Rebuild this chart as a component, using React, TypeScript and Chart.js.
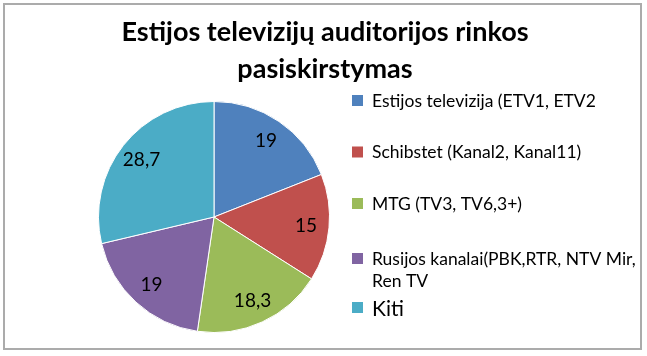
import { useEffect, useRef } from 'react';
import { Chart, registerables } from 'chart.js';

Chart.register(...registerables);

const titleLines = ['Estijos televizijų auditorijos rinkos', 'pasiskirstymas'];
const categories = [
  'Estijos televizija (ETV1, ETV2',
  'Schibstet (Kanal2, Kanal11)',
  'MTG (TV3, TV6,3+)',
  'Rusijos kanalai(PBK,RTR, NTV Mir, Ren TV',
  'Kiti',
];
const values = [19, 15, 18.3, 19, 28.7];
const valueLabels = ['19', '15', '18,3', '19', '28,7'];
const colors = ['#4F81BD', '#C0504D', '#9BBB59', '#8064A2', '#4BACC6'];

const FONT = 'Lato, "Open Sans", "DejaVu Sans", sans-serif';

function wrap(ctx: CanvasRenderingContext2D, text: string, maxW: number): string[] {
  const words = text.split(' ');
  const lines: string[] = [];
  let cur = '';
  for (const w of words) {
    const t = cur ? cur + ' ' + w : w;
    if (ctx.measureText(t).width > maxW && cur) {
      lines.push(cur);
      cur = w;
    } else cur = t;
  }
  if (cur) lines.push(cur);
  return lines;
}

const decorPlugin = {
  id: 'decor',
  beforeDraw(chart: any) {
    const ctx = chart.ctx as CanvasRenderingContext2D;
    ctx.save();
    ctx.fillStyle = '#ffffff';
    ctx.fillRect(0, 0, chart.width, chart.height);
    ctx.strokeStyle = '#ABABAB';
    ctx.lineWidth = 2;
    ctx.strokeRect(4, 4, 637, 345);
    ctx.restore();
  },
  afterDraw(chart: any) {
    const ctx = chart.ctx as CanvasRenderingContext2D;
    ctx.save();
    // title
    ctx.fillStyle = '#000';
    ctx.font = `bold 27px ${FONT}`;
    ctx.textAlign = 'center';
    ctx.textBaseline = 'alphabetic';
    titleLines.forEach((t, i) => ctx.fillText(t, 325, 41 + i * 37));

    // legend
    const markerX = 352;
    const textX = 372;
    let y = 100;
    const meta = chart.getDatasetMeta(0);
    categories.forEach((c, i) => {
      const big = i === categories.length - 1;
      ctx.font = `${big ? 21 : 17.5}px ${FONT}`;
      ctx.textAlign = 'left';
      ctx.textBaseline = 'middle';
      const lines = wrap(ctx, c, 264);
      ctx.fillStyle = meta.data[i].options.backgroundColor;
      ctx.fillRect(markerX, y - 5, 11, 11);
      ctx.fillStyle = '#000';
      lines.forEach((l, j) => ctx.fillText(l, textX, y + (big ? 2 : 1) + j * 22));
      if (lines.length > 1) {
        y += (lines.length - 1) * 22 + 27;
      } else {
        y += i === 2 ? 55 : 51.5;
      }
    });

    ctx.restore();
  },
  afterDatasetsDraw(chart: any) {
    const ctx = chart.ctx as CanvasRenderingContext2D;
    const meta = chart.getDatasetMeta(0);
    ctx.save();
    ctx.font = `19px ${FONT}`;
    ctx.fillStyle = '#000';
    ctx.textAlign = 'center';
    ctx.textBaseline = 'middle';
    meta.data.forEach((arc: any, i: number) => {
      const { x, y, startAngle, endAngle, outerRadius } = arc.getProps(
        ['x', 'y', 'startAngle', 'endAngle', 'outerRadius'],
        true
      );
      const mid = (startAngle + endAngle) / 2;
      const r = outerRadius * 0.8;
      ctx.fillText(valueLabels[i], x + Math.cos(mid) * r, y + Math.sin(mid) * r);
    });
    ctx.restore();
  },
};

export default function App() {
  const ref = useRef<HTMLCanvasElement>(null);
  useEffect(() => {
    document.body.style.margin = '0';
    const chart = new Chart(ref.current!, {
      type: 'pie',
      data: {
        labels: categories,
        datasets: [
          {
            data: values,
            backgroundColor: colors,
            borderColor: '#ffffff',
            borderWidth: 1,
          },
        ],
      },
      options: {
        responsive: false,
        animation: false,
        devicePixelRatio: 1,
        layout: { padding: { left: 98, right: 317, top: 101, bottom: 23 } },
        plugins: {
          legend: { display: false },
          title: { display: false },
          tooltip: { enabled: false },
        },
      },
      plugins: [decorPlugin],
    });
    return () => chart.destroy();
  }, []);
  return (
    <div style={{ width: 647, height: 356 }}>
      <canvas ref={ref} width={647} height={356} style={{ display: 'block' }} />
    </div>
  );
}
